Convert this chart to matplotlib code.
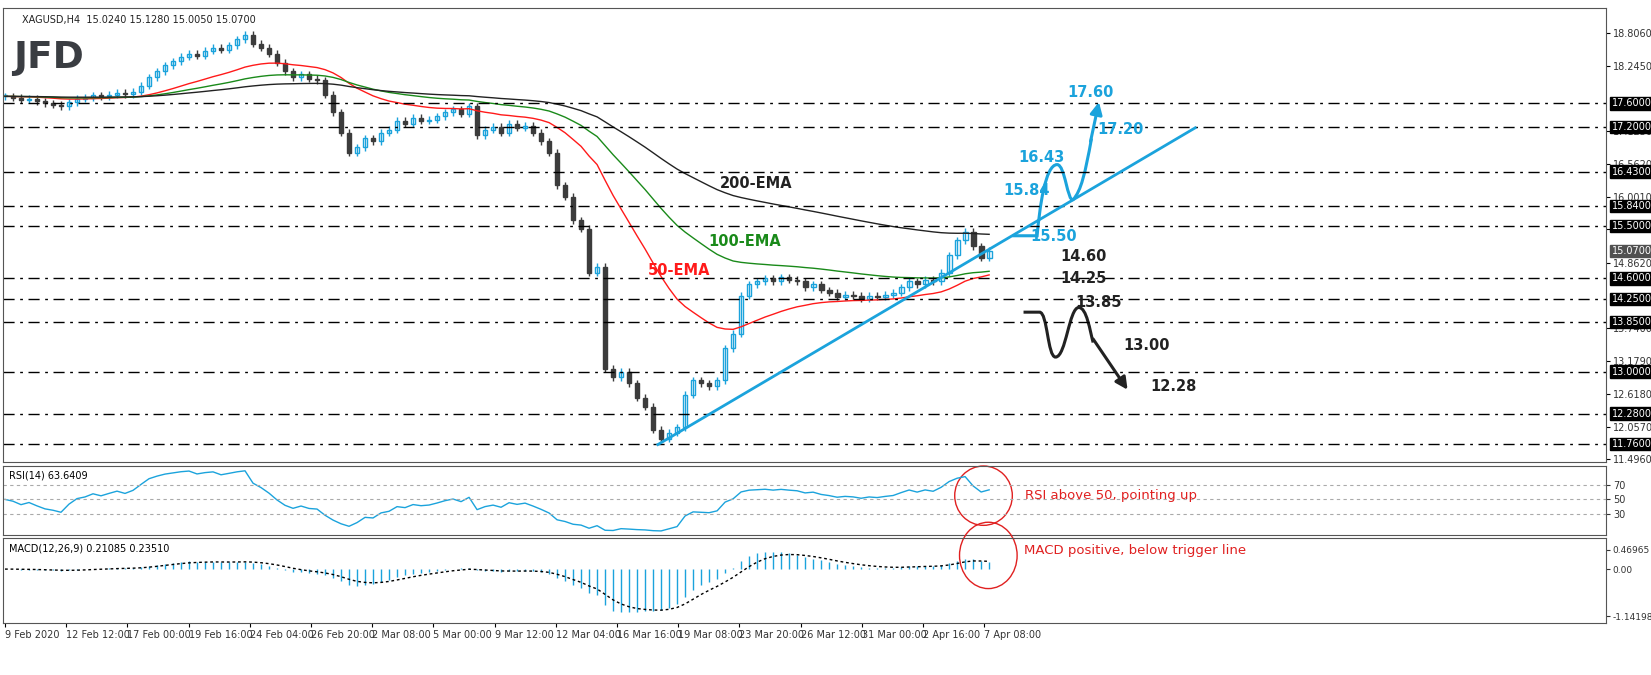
import numpy as np
import matplotlib.pyplot as plt
from matplotlib.patches import Ellipse, FancyArrowPatch, PathPatch
from matplotlib.path import Path

# --- DATA ---
closes = [17.72, 17.70, 17.66, 17.68, 17.64, 17.60, 17.58, 17.55,
          17.62, 17.68, 17.70, 17.74, 17.72, 17.75, 17.78, 17.76, 17.80,
          17.90, 18.05, 18.15, 18.25,
          18.32, 18.40, 18.45, 18.42, 18.50, 18.55, 18.52, 18.60,
          18.70, 18.78, 18.62,
          18.55, 18.45, 18.30, 18.15,
          18.05, 18.10, 18.02, 18.00,
          17.75, 17.45, 17.10,
          16.75, 16.85,
          17.00, 16.95, 17.10, 17.15,
          17.30, 17.25, 17.35, 17.30, 17.32, 17.38,
          17.45, 17.50, 17.42, 17.55,
          17.05, 17.15,
          17.20, 17.10, 17.25, 17.18, 17.22, 17.10,
          16.95, 16.75,
          16.20, 16.00,
          15.60, 15.45,
          14.70, 14.80,
          13.05,
          12.90, 13.00, 12.80,
          12.55, 12.40,
          12.00, 11.85, 11.95, 12.05,
          12.60, 12.85,
          12.80, 12.75, 12.85,
          13.40, 13.65,
          14.30, 14.50, 14.55,
          14.60, 14.55, 14.62, 14.58, 14.55,
          14.45, 14.50, 14.40, 14.35,
          14.28, 14.32, 14.30, 14.25, 14.30, 14.28, 14.32, 14.35,
          14.45, 14.55, 14.50, 14.58, 14.55,
          14.70, 15.00,
          15.25, 15.40,
          15.15, 14.95, 15.07]

levels = [17.60, 17.20, 16.43, 15.84, 15.50, 14.60, 14.25, 13.85, 13.00, 12.28, 11.76]
axis_ticks = [18.8060, 18.2450, 17.1230, 16.5620, 16.0010, 15.4400, 14.8620,
              13.7400, 13.1790, 12.6180, 12.0570, 11.4960]
last_price = 15.07
date_labels = ["9 Feb 2020", "12 Feb 12:00", "17 Feb 00:00", "19 Feb 16:00", "24 Feb 04:00",
               "26 Feb 20:00", "2 Mar 08:00", "5 Mar 00:00", "9 Mar 12:00", "12 Mar 04:00",
               "16 Mar 16:00", "19 Mar 08:00", "23 Mar 20:00", "26 Mar 12:00", "31 Mar 00:00",
               "2 Apr 16:00", "7 Apr 08:00"]
macd_ticks = [0.46965, 0.0, -1.14198]
rsi_levels = [70, 50, 30]

CYAN = '#1ba3dc'
DARK = '#3c3c3c'
FS = 7

c = np.array(closes)
n = len(c)
x = np.arange(n)
o = np.r_[c[0], c[:-1]]


def ema(a, span, seed=None):
    k = 2.0 / (span + 1)
    out = np.empty_like(a)
    out[0] = a[0] if seed is None else seed
    for i in range(1, len(a)):
        out[i] = a[i] * k + out[i - 1] * (1 - k)
    return out


def rsi(a, period):
    d = np.diff(a, prepend=a[0])
    up = np.clip(d, 0, None)
    dn = np.clip(-d, 0, None)
    m = 0.5 * (up[1:period + 1].mean() + dn[1:period + 1].mean())
    au = ema(up, 2 * period - 1, seed=m)
    ad = ema(dn, 2 * period - 1, seed=m)
    return 100 - 100 / (1 + au / np.maximum(ad, 1e-9))


fig = plt.figure(figsize=(16.51, 6.75), dpi=100)
W, H = 1651, 675


def box(l, t, r, b):
    return [l / W, 1 - b / H, (r - l) / W, (b - t) / H]


ax = fig.add_axes(box(3, 8, 1606, 462))
ax_rsi = fig.add_axes(box(3, 466, 1606, 535), sharex=ax)
ax_macd = fig.add_axes(box(3, 538, 1606, 623), sharex=ax)

# candles
for i in range(n):
    hi = max(o[i], c[i]) + 0.06
    lo = min(o[i], c[i]) - 0.06
    col = CYAN if c[i] >= o[i] else DARK
    ax.vlines(x[i], lo, hi, color=col, lw=1)
    body = max(abs(c[i] - o[i]), 0.015)
    ax.bar(x[i], body, bottom=min(o[i], c[i]), width=0.6,
           color='white' if c[i] >= o[i] else DARK, edgecolor=col, lw=1)

ax.plot(x, ema(c, 25), color='#ff1a1a', lw=1)
ax.plot(x, ema(c, 50), color='#1a8a1a', lw=1)
ax.plot(x, ema(c, 100), color='#222222', lw=1)

for lv in levels:
    ax.axhline(lv, color='black', lw=1, ls=(0, (8, 4, 2, 4)))

ax.set_xlim(-0.25, 200.1)
ax.set_ylim(11.451, 19.235)
ax.yaxis.tick_right()
ax.set_yticks(axis_ticks)
ax.set_yticklabels([f"{t:.4f}" for t in axis_ticks], fontsize=FS, color='#333333')
ax.tick_params(axis='y', length=3, pad=2)
ax.tick_params(axis='x', bottom=False, labelbottom=False)
for lv in levels:
    ax.text(1.0035, lv, f"{lv:.4f}", transform=ax.get_yaxis_transform(), fontsize=FS,
            color='white', va='center', ha='left',
            bbox=dict(boxstyle='square,pad=0.12', fc='black', ec='black'))
ax.text(1.0035, last_price, f"{last_price:.4f}", transform=ax.get_yaxis_transform(), fontsize=FS,
        color='white', va='center', ha='left',
        bbox=dict(boxstyle='square,pad=0.12', fc='#505050', ec='#505050'))

ax.text(0.012, 0.985, "XAGUSD,H4  15.0240 15.1280 15.0050 15.0700", transform=ax.transAxes,
        fontsize=FS, va='top', color='#222222')
ax.text(0.006, 0.93, "JFD", transform=ax.transAxes, fontsize=27, fontweight='bold',
        color='#3a3d42', va='top')

# trend line
ax.plot([81.6, 148.75], [11.75, 17.18], color=CYAN, lw=2)

# scenario paths
bv = [(125.9, 15.33), (128.0, 15.33), (129.0, 15.33), (129.3, 15.8),
      (130.0, 16.55), (131.5, 16.55), (132.5, 16.55), (132.8, 15.9),
      (133.5, 15.95), (134.5, 16.1), (135.0, 16.4), (135.8, 17.0)]
bc = [Path.MOVETO, Path.LINETO, Path.LINETO] + [Path.CURVE4] * 9
ax.add_patch(PathPatch(Path(bv, bc), fc='none', ec=CYAN, lw=2.2))
ax.add_patch(FancyArrowPatch((135.6, 16.9), (136.8, 17.67), arrowstyle='-|>',
                             mutation_scale=18, color=CYAN, lw=2.2))

kv = [(127.3, 14.02), (129.3, 14.02),
      (130.3, 14.02), (130.3, 13.25), (131.3, 13.25),
      (132.6, 13.25), (133.0, 14.1), (134.2, 14.1),
      (135.2, 14.1), (135.6, 13.7), (136.0, 13.5)]
kc = [Path.MOVETO, Path.LINETO] + [Path.CURVE4] * 9
ax.add_patch(PathPatch(Path(kv, kc), fc='none', ec='#222222', lw=2.2))
ax.add_patch(FancyArrowPatch((135.8, 13.6), (140.5, 12.65), arrowstyle='-|>',
                             mutation_scale=18, color='#222222', lw=2.2))

lab = dict(fontsize=10.5, va='center', ha='left', fontweight='bold')
for t, bx, py in [("15.84", 124.75, 16.11), ("15.50", 128.1, 15.31),
                  ("16.43", 126.6, 16.68), ("17.60", 132.75, 17.79), ("17.20", 136.5, 17.16)]:
    ax.text(bx, py, t, color=CYAN, **lab)
for t, bx, py in [("14.60", 131.9, 14.98), ("14.25", 131.9, 14.59), ("13.85", 133.75, 14.19),
                  ("13.00", 139.75, 13.44), ("12.28", 143.1, 12.75)]:
    ax.text(bx, py, t, color='#222222', **lab)
ax.text(89.4, 16.22, "200-EMA", color='#222222', **lab)
ax.text(87.9, 15.24, "100-EMA", color='#1a8a1a', **lab)
ax.text(80.4, 14.74, "50-EMA", color='#ff1a1a', **lab)

# RSI
r = rsi(c, 12)
ax_rsi.plot(x, r, color=CYAN, lw=1)
for lv in rsi_levels:
    ax_rsi.axhline(lv, color='#aaaaaa', lw=0.8, ls=(0, (3, 3)))
ax_rsi.set_ylim(2, 95)
ax_rsi.yaxis.tick_right()
ax_rsi.set_yticks(rsi_levels)
ax_rsi.tick_params(axis='y', labelsize=FS, length=3, pad=2, colors='#333333')
ax_rsi.tick_params(axis='x', bottom=False, labelbottom=False)
ax_rsi.text(0.004, 0.93, "RSI(14) 63.6409", transform=ax_rsi.transAxes, fontsize=FS, va='top')
ax_rsi.add_patch(Ellipse((122.3, 55), 7.2, 80, fc='none', ec='#e02020', lw=1, clip_on=False))
ax_rsi.text(127.5, 55, "RSI above 50, pointing up", color='#e02020', fontsize=9.5, va='center')

# MACD
macd = ema(c, 6) - ema(c, 13)
sig = ema(macd, 5)
ax_macd.vlines(x, 0, macd, color=CYAN, lw=1)
ax_macd.plot(x, sig, color='black', lw=1, ls=(0, (2, 2)))
ax_macd.set_ylim(-1.3, 0.75)
ax_macd.yaxis.tick_right()
ax_macd.set_yticks(macd_ticks)
ax_macd.set_yticklabels(["0.46965", "0.00", "-1.14198"])
ax_macd.tick_params(axis='y', labelsize=6.5, length=3, pad=1.5, colors='#333333')
ax_macd.text(0.004, 0.93, "MACD(12,26,9) 0.21085 0.23510", transform=ax_macd.transAxes,
             fontsize=FS, va='top')
ax_macd.add_patch(Ellipse((122.9, 0.33), 7.2, 1.6, fc='none', ec='#e02020', lw=1, clip_on=False))
ax_macd.text(127.3, 0.45, "MACD positive, below trigger line", color='#e02020', fontsize=9.5,
             va='center')

ticks = np.arange(len(date_labels)) * 7.65
ax_macd.set_xticks(ticks)
ax_macd.set_xticklabels(date_labels, fontsize=FS, ha='left', color='#333333')
ax_macd.tick_params(axis='x', length=3, pad=2)

for a in (ax, ax_rsi, ax_macd):
    for s in a.spines.values():
        s.set_color('#555555')

fig.savefig("out.png", dpi=100)
